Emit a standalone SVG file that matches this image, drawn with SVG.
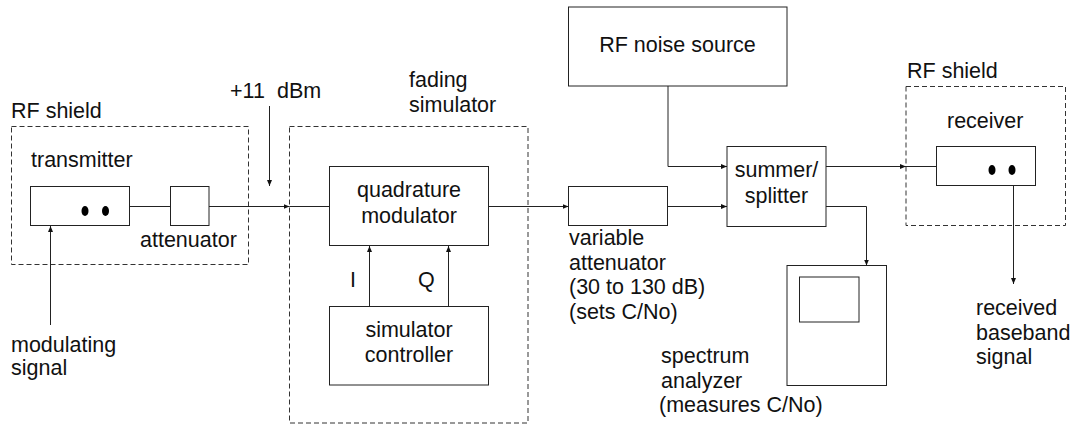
<svg xmlns="http://www.w3.org/2000/svg" width="1077" height="425" viewBox="0 0 1077 425">
<style>
text{font-family:"Liberation Sans",Arial,sans-serif;font-size:21.5px;fill:#111}
.c{text-anchor:middle}
.box{fill:none;stroke:#222;stroke-width:1}
.shield{fill:none;stroke:#333;stroke-width:1;stroke-dasharray:5,3}
.ln{fill:none;stroke:#222;stroke-width:1}
.dot{fill:#000}
</style>
<defs>
<marker id="ah" markerWidth="6" markerHeight="5" refX="6" refY="2.5" orient="auto" markerUnits="userSpaceOnUse"><path d="M0,0 L6,2.5 L0,5 z" fill="#111"/></marker>
</defs>
<rect width="1077" height="425" fill="#fff"/>

<g id="tx-shield">
<rect class="shield" x="11.5" y="126.5" width="237" height="138"/>
<text x="11" y="118">RF shield</text>
</g>
<g id="transmitter">
<rect class="box" x="30.5" y="186.5" width="99" height="39"/>
<ellipse class="dot" cx="85" cy="211" rx="3.5" ry="5"/>
<ellipse class="dot" cx="105.5" cy="211" rx="3.5" ry="5"/>
<text x="31" y="167">transmitter</text>
</g>
<g id="attenuator">
<rect class="box" x="170.5" y="186.5" width="38.5" height="39"/>
<text x="140" y="247">attenuator</text>
</g>
<g id="power-label">
<text x="230" y="98">+11 <tspan x="277">dBm</tspan></text>
</g>
<g id="modulating-signal">
<text x="11" y="351.5">modulating</text>
<text x="11" y="375">signal</text>
</g>
<g id="fading-simulator">
<rect class="shield" x="289.5" y="126.5" width="238.5" height="296.5"/>
<text x="409" y="87">fading</text>
<text x="409" y="112">simulator</text>
</g>
<g id="quadrature-modulator">
<rect class="box" x="329.5" y="166.5" width="159" height="79"/>
<text class="c" x="409" y="197">quadrature</text>
<text class="c" x="409" y="223">modulator</text>
</g>
<g id="simulator-controller">
<rect class="box" x="329.5" y="306.5" width="159" height="78.5"/>
<text class="c" x="409" y="337">simulator</text>
<text class="c" x="409" y="362">controller</text>
</g>
<g id="variable-attenuator">
<rect class="box" x="568.5" y="186.5" width="99" height="39"/>
<text x="569" y="245">variable</text>
<text x="569" y="269.5">attenuator</text>
<text x="569" y="294">(30 to 130 dB)</text>
<text x="569" y="318.5">(sets C/No)</text>
</g>
<g id="rf-noise-source">
<rect class="box" x="568.5" y="7" width="218.5" height="79"/>
<text class="c" x="677.5" y="52">RF noise source</text>
</g>
<g id="summer-splitter">
<rect class="box" x="727" y="146.5" width="99" height="80"/>
<text class="c" x="776.5" y="177">summer/</text>
<text class="c" x="776.5" y="203">splitter</text>
</g>
<g id="spectrum-analyzer">
<rect class="box" x="787" y="265.5" width="99.5" height="120"/>
<rect class="box" x="799.5" y="277" width="59.5" height="45"/>
<text x="661" y="363">spectrum</text>
<text x="661" y="388">analyzer</text>
<text x="659" y="412">(measures C/No)</text>
</g>
<g id="rx-shield">
<rect class="shield" x="906" y="86.5" width="159.5" height="139"/>
<text x="907" y="78">RF shield</text>
</g>
<g id="receiver">
<rect class="box" x="936.5" y="146.5" width="99" height="39"/>
<ellipse class="dot" cx="992" cy="170" rx="3.5" ry="5"/>
<ellipse class="dot" cx="1012" cy="170" rx="3.5" ry="5"/>
<text x="947" y="128">receiver</text>
</g>
<g id="received-signal">
<text x="976" y="315">received</text>
<text x="976" y="340">baseband</text>
<text x="976" y="364">signal</text>
</g>

<g id="connectors">
<path class="ln" d="M50.5,325 V226" marker-end="url(#ah)"/>
<path class="ln" d="M130,206.5 H170.5"/>
<path class="ln" d="M209,206.5 H289.5" marker-end="url(#ah)"/>
<path class="ln" d="M289.5,206.5 H329.5"/>
<path class="ln" d="M269.5,106 V186" marker-end="url(#ah)"/>
<path class="ln" d="M369.5,306.5 V246" marker-end="url(#ah)"/>
<text x="350" y="287">I</text>
<path class="ln" d="M448.5,306.5 V246" marker-end="url(#ah)"/>
<text x="418" y="287">Q</text>
<path class="ln" d="M488.5,206.5 H568.5" marker-end="url(#ah)"/>
<path class="ln" d="M667.5,206.5 H727" marker-end="url(#ah)"/>
<path class="ln" d="M668,86 V166.5 H727" marker-end="url(#ah)"/>
<path class="ln" d="M826,166.5 H906" marker-end="url(#ah)"/>
<path class="ln" d="M906,166.5 H936.5"/>
<path class="ln" d="M826,206.5 H866.5 V265.5" marker-end="url(#ah)"/>
<path class="ln" d="M1013.5,185.5 V284" marker-end="url(#ah)"/>
</g>
</svg>
